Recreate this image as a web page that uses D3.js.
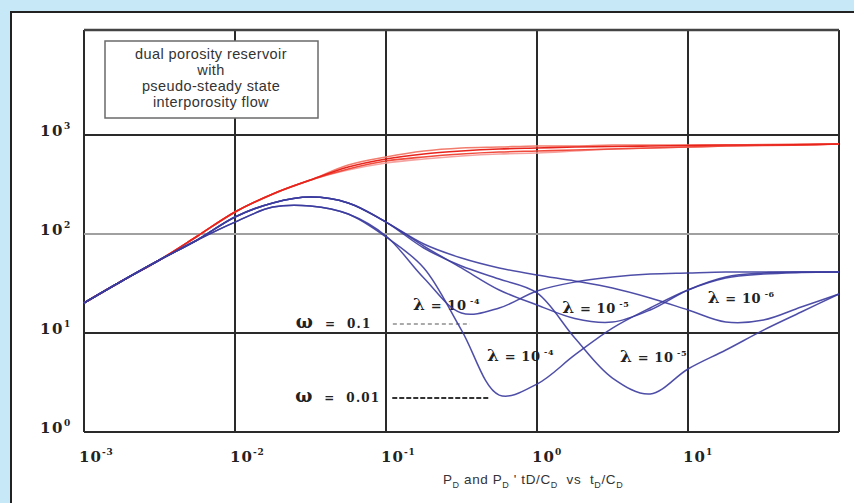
<!DOCTYPE html>
<html>
<head>
<meta charset="utf-8">
<script src="https://cdn.jsdelivr.net/npm/d3@7"></script>
<style>
  html, body { margin: 0; padding: 0; background: #c6e8f7; overflow: hidden; }
  svg { display: block; }
</style>
</head>
<body>
<svg id="chart" width="854" height="503"></svg>
<script>
// Dimensionless time tD/CD sampled every quarter decade
const timeGrid = [0.001, 0.00178, 0.00316, 0.00562, 0.01, 0.0178, 0.0316, 0.0562,
                  0.1, 0.178, 0.316, 0.562, 1, 1.78, 3.16, 5.62, 10, 17.8, 31.6, 56.2, 100];

// Pressure responses PD
const pressureA = [20.1, 33.5, 54.6, 95, 167, 254, 351, 475, 573, 643, 689, 722, 739, 756, 765, 774, 783, 792, 792, 800, 811];
const pressureB = [20.1, 33.5, 54.6, 95, 167, 254, 351, 454, 546, 600, 643, 673, 689, 705, 722, 739, 756, 774, 783, 792, 811];
const pressureC = [20.1, 33.5, 54.6, 95, 167, 254, 351, 498, 600, 689, 739, 756, 774, 774, 792, 792, 792, 792, 800, 805, 811];
const pressureD = [20.1, 33.5, 54.6, 95, 167, 254, 351, 443, 521, 573, 614, 643, 658, 689, 722, 739, 756, 774, 792, 801, 811];

// Pressure derivatives PD' tD/CD, omega = 0.1
const derivOmega1A = [20.1, 33.5, 54.6, 86.9, 132, 187, 192, 159, 95.4, 35.9, 15.9, 17.9, 26.6, 32.7, 36.8, 39.4, 40.4, 41.3, 41.3, 41.3, 41.3];
const derivOmega1B = [20.1, 33.5, 54.6, 86.9, 148.5, 206, 236, 206, 132, 75.6, 45.4, 27.2, 19.2, 14.0, 12.9, 17.1, 27.2, 36.8, 40.4, 41.3, 41.3];
const derivOmega1C = [20.1, 33.5, 54.6, 86.9, 148.5, 206, 236, 206, 132, 79.2, 57.2, 45.4, 38.5, 33.5, 28.5, 22.6, 17.1, 12.9, 13.5, 18.3, 24.8];
// Pressure derivatives, omega = 0.01
const derivOmega2A = [20.1, 33.5, 54.6, 86.9, 132, 187, 192, 159, 93.3, 45.4, 10.7, 2.36, 3.05, 6.0, 11.2, 17.9, 27.2, 35.9, 39.4, 40.8, 41.3];
const derivOmega2B = [20.1, 33.5, 54.6, 86.9, 148.5, 206, 236, 206, 132, 72.2, 47.5, 35.1, 25.4, 8.9, 3.51, 2.42, 4.33, 6.73, 10.7, 16.3, 24.8];

// Axis ticks
const xTicks = [0.001, 0.01, 0.1, 1, 10, 100];
const xTickExp = ["-3", "-2", "-1", "0", "1"];
const yTicks = [1, 10, 100, 1000];
const yTickExp = ["0", "1", "2", "3"];

// Storativity ratio levels
const omegaNames = ["0.1", "0.01"];
const omegaLevels = [12.3, 2.2];
const omegaFrom = [0.111, 0.11];
const omegaTo = [0.36, 0.49];

// Interporosity flow coefficient annotations
const lambdaExp = ["-4", "-5", "-6", "-4", "-5"];
const lambdaT = [0.151, 1.47, 13.5, 0.467, 3.55];
const lambdaV = [19.2, 17.9, 22.6, 5.86, 5.72];

const titleLines = ["dual porosity reservoir", "with", "pseudo-steady state", "interporosity flow"];

const W = 854, H = 503;
const svg = d3.select("#chart");

svg.append("rect").attr("width", W).attr("height", H).attr("fill", "#c6e8f7");
svg.append("rect").attr("x", 11).attr("y", 12).attr("width", 900).attr("height", 600)
  .attr("fill", "#ffffff").attr("stroke", "#222").attr("stroke-width", 2);

const plot = { left: 84, right: 839, top: 30, bottom: 432 };
const x = d3.scaleLog().domain([1e-3, 1e2]).range([plot.left, plot.right]);
const y = d3.scaleLog().domain([1, 11500]).range([plot.bottom, plot.top]);

// grid
const grid = svg.append("g");
grid.selectAll("line.v").data(xTicks).join("line")
  .attr("x1", d => x(d)).attr("x2", d => x(d))
  .attr("y1", plot.top).attr("y2", plot.bottom)
  .attr("stroke", "#2a2a2a").attr("stroke-width", 2);
grid.selectAll("line.h").data(yTicks).join("line")
  .attr("x1", plot.left).attr("x2", plot.right)
  .attr("y1", d => y(d)).attr("y2", d => y(d))
  .attr("stroke", d => d === 100 ? "#a0a0a0" : "#2a2a2a").attr("stroke-width", 2);
grid.append("line")
  .attr("x1", plot.left).attr("x2", plot.right)
  .attr("y1", plot.top).attr("y2", plot.top)
  .attr("stroke", "#444").attr("stroke-width", 2.5);

// description box
const box = svg.append("g");
box.append("rect").attr("x", 105).attr("y", 41).attr("width", 213).attr("height", 77)
  .attr("fill", "#fff").attr("stroke", "#6a6a6a").attr("stroke-width", 1.5);
box.selectAll("text").data(titleLines).join("text")
  .attr("x", 211).attr("y", (d, i) => 59 + i * 16)
  .attr("text-anchor", "middle")
  .attr("font-family", "Liberation Sans, Arial, sans-serif")
  .attr("font-size", 14.5).attr("letter-spacing", 0.4).attr("fill", "#333")
  .text(d => d);

// tick labels
const tickFont = "DejaVu Serif, serif";
const xl = svg.append("g");
xTicks.slice(0, 5).forEach((t, i) => {
  const tx = xl.append("text").attr("x", x(t) - 5).attr("y", 462)
    .attr("font-family", tickFont).attr("font-weight", "bold").attr("font-size", 15)
    .attr("letter-spacing", 1).attr("fill", "#222");
  tx.append("tspan").text("10");
  tx.append("tspan").attr("dy", -7).attr("font-size", 9).text(xTickExp[i]);
});
const yl = svg.append("g");
yTicks.forEach((v, i) => {
  const ty = yl.append("text").attr("x", 40).attr("y", y(v) + 1)
    .attr("font-family", tickFont).attr("font-weight", "bold").attr("font-size", 15)
    .attr("letter-spacing", 1.5).attr("fill", "#222");
  ty.append("tspan").text("10");
  ty.append("tspan").attr("dy", -7).attr("font-size", 9).text(yTickExp[i]);
});

// x axis title
const xt = svg.append("text").attr("x", 443).attr("y", 484)
  .attr("font-family", "Liberation Sans, Arial, sans-serif").attr("font-size", 13.5)
  .attr("letter-spacing", 0.6).attr("fill", "#333");
[["P", 0], ["D", 1], [" and P", 0], ["D", 1], [" ' tD/C", 0], ["D", 1], ["  vs  t", 0], ["D", 1], ["/C", 0], ["D", 1]]
  .forEach(([s, sub], i, arr) => {
    const prevSub = i > 0 && arr[i - 1][1];
    xt.append("tspan")
      .attr("dy", sub ? 4 : (prevSub ? -4 : 0))
      .attr("font-size", sub ? 9 : 13.5)
      .attr("xml:space", "preserve")
      .text(s);
  });

// omega annotations
const om = svg.append("g");
omegaNames.forEach((name, i) => {
  const t = om.append("text").attr("x", x(omegaFrom[i]) - 97).attr("y", y(omegaLevels[i]) + 4)
    .attr("font-family", tickFont).attr("font-weight", "bold").attr("font-size", 12)
    .attr("letter-spacing", 1.2).attr("fill", "#222")
    .attr("xml:space", "preserve");
  t.append("tspan").attr("font-size", 18).text("ω");
  t.append("tspan").text("  =  " + name);
  om.append("line")
    .attr("x1", x(omegaFrom[i])).attr("x2", x(omegaTo[i]))
    .attr("y1", y(omegaLevels[i])).attr("y2", y(omegaLevels[i]))
    .attr("stroke", i === 0 ? "#aaa" : "#333").attr("stroke-width", 2)
    .attr("stroke-dasharray", i === 0 ? "4,3" : "5,2");
});

// lambda annotations
const la = svg.append("g");
lambdaExp.forEach((e, i) => {
  const t = la.append("text").attr("x", x(lambdaT[i])).attr("y", y(lambdaV[i]) + 5)
    .attr("font-family", tickFont).attr("font-weight", "bold").attr("font-size", 13)
    .attr("letter-spacing", 0.6).attr("fill", "#222")
    .attr("xml:space", "preserve");
  t.append("tspan").attr("font-size", 17).text("λ");
  t.append("tspan").text(" = 10");
  t.append("tspan").attr("dy", -6).attr("font-size", 8).text(" " + e);
});

// curves
const line = d3.line()
  .x((d, i) => x(timeGrid[i]))
  .y(d => y(d))
  .curve(d3.curveCatmullRom.alpha(0.5));

const pressureSeries = [pressureD, pressureC, pressureB, pressureA];
const pressureColors = ["#f5a3a0", "#f27d6e", "#f04a3c", "#e8231c"];
svg.append("g").selectAll("path").data(pressureSeries).join("path")
  .attr("d", line).attr("fill", "none")
  .attr("stroke", (d, i) => pressureColors[i]).attr("stroke-width", 1.6);

const derivSeries = [derivOmega1A, derivOmega1B, derivOmega1C, derivOmega2A, derivOmega2B];
svg.append("g").selectAll("path").data(derivSeries).join("path")
  .attr("d", line).attr("fill", "none")
  .attr("stroke", "#3b3b9e").attr("stroke-width", 1.5).attr("stroke-opacity", 0.9);
</script>
</body>
</html>
